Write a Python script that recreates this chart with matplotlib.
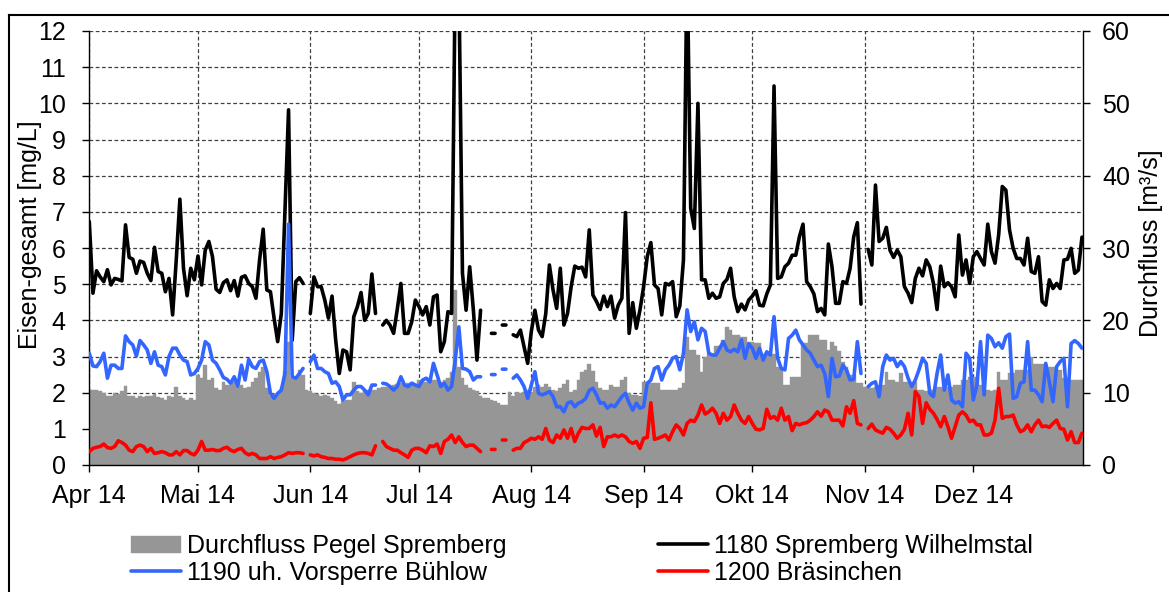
import numpy as np
import matplotlib
matplotlib.use('Agg')
import matplotlib.pyplot as plt
from matplotlib.lines import Line2D
from matplotlib.ticker import MultipleLocator

nan = np.nan

# daily values 01.04.2014 - 31.12.2014
# Eisen-gesamt [mg/L], 1180 Spremberg Wilhelmstal
fe_1180 = [
    6.73, 4.75, 5.37, 5.2, 5.07, 5.4, 4.98, 5.16, 5.13, 5.09,
    6.64, 5.74, 5.69, 5.3, 5.64, 5.6, 5.3, 5.1, 6.02, 5.35,
    5.3, 4.79, 5.16, 4.15, 5.67, 7.35, 5.44, 4.68, 5.44, 5.12,
    5.78, 4.98, 5.94, 6.18, 5.76, 4.86, 4.77, 5.04, 5.12, 4.82,
    5.1, 4.67, 5.19, 5.23, 5.02, 4.93, 4.61, 5.67, 6.52, 4.84,
    4.79, 4.06, 3.41, 4.19, 7.0, 9.82, 3.45, 5.07, 5.18, 5.02,
    nan, 4.19, 5.2, 4.93, 4.93, 4.56, 4.06, 4.67, 3.46, 2.53,
    3.18, 3.13, 2.63, 4.1, 4.38, 4.77, 4.0, 4.19, 5.28, 4.19,
    nan, 3.87, 4.0, 3.87, 3.64, 4.3, 5.02, 3.64, 3.64, 3.96,
    4.56, 4.38, 4.15, 4.38, 3.87, 4.65, 4.7, 3.13, 3.41, 4.24,
    4.19, 13.5, 13.5, 5.3, 4.28, 5.48, 4.3, 2.9, 4.28, nan,
    nan, 3.64, 3.64, nan, 3.87, 3.87, nan, 3.6, 3.55, 3.73,
    3.27, 2.81, 3.69, 4.28, 3.73, 3.55, 4.19, 5.53, 4.84, 4.33,
    5.44, 3.87, 4.19, 4.93, 5.5, 5.44, 5.47, 5.2, 6.5, 4.7,
    4.52, 4.3, 4.67, 4.38, 4.67, 4.06, 4.42, 4.61, 6.98, 3.64,
    4.49, 3.78, 4.29, 4.93, 5.76, 6.15, 4.98, 4.88, 4.15, 5.02,
    4.98, 5.07, 4.1, 4.4, 5.67, 14.0, 7.1, 6.54, 10.0, 5.12,
    5.12, 4.61, 4.75, 4.61, 4.65, 5.02, 5.13, 5.44, 4.65, 4.24,
    4.45, 4.29, 4.56, 4.67, 4.82, 4.42, 4.4, 4.73, 4.98, 10.48,
    5.16, 5.2, 5.48, 5.58, 5.8, 5.8, 6.31, 6.66, 5.07, 4.93,
    4.73, 4.24, 4.33, 4.15, 6.11, 5.48, 4.47, 4.47, 5.07, 5.02,
    5.44, 6.31, 6.7, 4.45, nan, 5.96, 5.53, 7.74, 6.18, 6.27,
    6.57, 5.94, 5.74, 5.94, 5.76, 4.93, 4.75, 4.49, 5.16, 5.44,
    5.23, 5.67, 5.48, 5.02, 4.3, 5.5, 4.93, 5.04, 4.93, 4.65,
    6.36, 5.25, 5.67, 5.02, 5.76, 5.9, 5.71, 5.53, 6.66, 5.9,
    5.58, 6.36, 7.7, 7.6, 6.5, 5.99, 5.71, 5.71, 5.53, 6.27,
    5.35, 5.3, 5.76, 4.52, 4.42, 5.12, 4.88, 5.02, 4.88, 5.67,
    5.69, 5.99, 5.3, 5.39, 6.3,
]

# 1190 uh. Vorsperre Bühlow
fe_1190 = [
    3.09, 2.74, 2.72, 2.86, 3.09, 2.4, 2.76, 2.76, 2.67, 2.67,
    3.57, 3.41, 3.32, 3.01, 3.44, 3.32, 3.18, 2.81, 3.13, 2.76,
    2.72, 2.49, 3.0, 3.23, 3.23, 3.04, 2.9, 2.86, 2.49, 2.53,
    2.67, 2.9, 3.41, 3.32, 2.9, 2.81, 2.63, 2.42, 2.37, 2.26,
    2.44, 2.18, 2.76, 2.35, 2.92, 2.72, 2.67, 2.86, 2.9, 2.58,
    1.98, 1.84, 1.98, 2.07, 2.53, 6.66, 2.44, 2.4, 2.53, 2.67,
    nan, 2.86, 3.04, 2.67, 2.67, 2.58, 2.53, 2.26, 2.3, 2.17,
    1.8, 1.94, 1.94, 2.07, 2.17, 2.17, 2.07, 1.94, 2.21, 2.21,
    nan, 2.26, 2.24, 2.17, 2.07, 2.17, 2.44, 2.21, 2.17, 2.26,
    2.21, 2.17, 2.35, 2.4, 2.3, 2.81, 2.49, 2.17, 2.26, 2.07,
    2.17, 2.9, 3.82, 2.67, 2.65, 2.58, 2.35, 2.44, 2.44, nan,
    nan, 2.5, 2.5, nan, 2.65, 2.65, nan, 2.4, 2.49, 2.35,
    2.17, 1.84, 2.21, 2.58, 1.98, 1.94, 1.98, 2.03, 1.89, 1.61,
    1.61, 1.47, 1.71, 1.75, 1.61, 1.71, 1.75, 1.84, 2.06, 2.12,
    1.94, 1.71, 1.72, 1.57, 1.66, 1.61, 1.75, 1.89, 1.98, 1.71,
    1.52, 1.71, 1.57, 1.61, 2.26, 2.35, 2.67, 2.72, 2.35, 2.63,
    2.76, 2.95, 3.0, 2.63, 3.09, 4.29, 3.69, 3.96, 3.46, 3.78,
    3.69, 3.09, 3.04, 3.04, 3.23, 3.41, 3.18, 3.13, 3.2, 3.13,
    3.46, 2.95, 3.35, 3.23, 2.95, 3.23, 2.9, 3.13, 3.04, 4.1,
    2.95, 2.67, 2.63, 3.5, 3.59, 3.73, 3.46, 3.32, 3.18, 3.09,
    2.9, 2.72, 2.76, 2.53, 1.89, 2.95, 2.44, 2.46, 2.76, 2.63,
    2.35, 2.37, 3.41, 2.53, nan, 2.17, 2.26, 2.3, 1.89, 2.72,
    3.04, 2.9, 2.95, 2.72, 2.86, 2.72, 2.4, 2.17, 2.35, 2.63,
    2.95, 2.81, 1.98, 1.89, 2.53, 3.04, 2.07, 2.49, 1.8, 1.71,
    1.75, 1.61, 3.09, 2.95, 1.8, 2.21, 3.41, 1.94, 3.59, 3.5,
    3.27, 3.38, 3.23, 3.55, 3.62, 1.84, 1.89, 2.26, 2.3, 3.41,
    2.07, 2.07, 1.94, 1.75, 2.81, 2.3, 1.75, 2.72, 2.86, 2.95,
    1.61, 3.36, 3.44, 3.36, 3.23,
]

# 1200 Bräsinchen
fe_1200 = [
    0.37, 0.46, 0.49, 0.51, 0.58, 0.48, 0.46, 0.51, 0.67, 0.62,
    0.55, 0.41, 0.37, 0.51, 0.55, 0.51, 0.37, 0.46, 0.32, 0.34,
    0.37, 0.34, 0.28, 0.28, 0.37, 0.28, 0.4, 0.4, 0.32, 0.28,
    0.41, 0.65, 0.41, 0.41, 0.43, 0.4, 0.4, 0.46, 0.49, 0.41,
    0.37, 0.43, 0.46, 0.34, 0.28, 0.32, 0.28, 0.18, 0.18, 0.18,
    0.23, 0.18, 0.21, 0.23, 0.28, 0.34, 0.32, 0.34, 0.34, 0.32,
    nan, 0.28, 0.25, 0.28, 0.23, 0.21, 0.18, 0.18, 0.16, 0.16,
    0.14, 0.18, 0.23, 0.28, 0.32, 0.34, 0.34, 0.32, 0.28, 0.53,
    nan, 0.65, 0.51, 0.46, 0.41, 0.41, 0.34, 0.28, 0.21, 0.41,
    0.46, 0.46, 0.41, 0.34, 0.53, 0.51, 0.58, 0.32, 0.65, 0.71,
    0.83, 0.62, 0.78, 0.62, 0.51, 0.55, 0.55, 0.46, 0.37, nan,
    nan, 0.43, 0.43, nan, 0.69, 0.69, nan, 0.41, 0.46, 0.46,
    0.62, 0.67, 0.74, 0.71, 0.78, 0.71, 1.01, 0.69, 0.62, 0.83,
    0.74, 0.97, 0.74, 1.01, 0.65, 0.88, 1.04, 1.01, 1.01, 1.11,
    0.8, 1.04, 0.51, 0.78, 0.78, 0.83, 0.78, 0.83, 0.78, 0.65,
    0.6, 0.65, 0.46, 0.74, 0.76, 1.72, 0.71, 0.74, 0.78, 0.83,
    0.69, 0.92, 1.11, 1.01, 0.83, 1.15, 1.24, 1.2, 1.38, 1.66,
    1.41, 1.47, 1.57, 1.43, 1.15, 1.43, 1.24, 1.34, 1.66, 1.43,
    1.24, 1.15, 1.34, 1.15, 0.99, 0.97, 1.01, 1.54, 1.29, 1.34,
    1.24, 1.57, 1.24, 1.34, 0.95, 1.15, 1.11, 1.15, 1.17, 1.24,
    1.34, 1.47, 1.35, 1.52, 1.47, 1.24, 1.24, 1.24, 1.08, 1.61,
    1.43, 1.78, 1.15, 1.11, nan, 1.01, 1.13, 0.97, 0.92, 0.88,
    1.04, 0.99, 0.88, 0.74, 0.83, 0.99, 1.43, 0.83, 2.03, 1.89,
    1.15, 1.72, 1.54, 1.43, 1.26, 1.06, 1.34, 1.06, 0.74, 1.06,
    1.38, 1.47, 1.38, 1.2, 1.24, 1.11, 1.11, 0.83, 0.83, 0.88,
    1.24, 2.12, 1.29, 1.34, 1.34, 1.38, 1.11, 0.92, 0.97, 1.11,
    0.92, 1.11, 1.24, 1.06, 1.08, 1.04, 1.15, 1.24, 1.01, 0.99,
    0.69, 0.92, 0.62, 0.62, 0.88,
]

# Durchfluss Pegel Spremberg [m³/s]
flow = [
    10.3, 10.3, 10.4, 10.2, 10.0, 9.5, 9.5, 10.0, 9.8, 10.2,
    10.9, 9.6, 9.5, 9.3, 9.6, 9.4, 9.5, 9.6, 9.8, 9.4,
    9.3, 9.0, 9.6, 9.4, 10.8, 9.6, 9.2, 9.0, 9.3, 9.0,
    12.4, 12.0, 13.8, 11.7, 12.0, 10.6, 10.3, 11.5, 11.0, 11.0,
    11.5, 10.8, 11.0, 10.6, 10.8, 11.5, 12.0, 12.9, 13.6, 10.7,
    9.6, 9.8, 10.0, 10.8, 13.0, 17.0, 12.0, 12.2, 13.2, 12.5,
    10.4, 10.2, 10.0, 9.8, 9.6, 9.7, 9.6, 9.3, 8.8, 8.5,
    8.8, 9.0, 9.0, 11.5, 10.2, 10.0, 10.2, 10.4, 10.4, 10.3,
    10.6, 10.8, 10.8, 10.6, 11.0, 11.2, 11.3, 11.0, 11.3, 11.5,
    11.2, 11.7, 11.8, 11.5, 12.0, 11.7, 11.8, 11.5, 11.7, 12.0,
    12.9, 24.2, 13.5, 12.0, 11.0, 10.6, 10.4, 10.2, 9.6, 9.2,
    9.2, 9.0, 8.8, 8.6, 8.3, 8.3, 10.1, 9.5, 10.1, 10.0,
    10.1, 10.3, 10.1, 10.8, 11.0, 10.8, 11.2, 10.8, 10.4, 10.2,
    10.6, 11.2, 11.7, 10.1, 10.3, 11.7, 12.9, 13.2, 14.0, 13.0,
    11.5, 10.6, 10.4, 10.4, 11.0, 10.8, 10.8, 11.8, 12.2, 9.9,
    9.7, 9.7, 9.6, 11.5, 11.5, 11.3, 11.3, 11.3, 10.4, 10.4,
    10.4, 10.4, 10.4, 10.6, 11.3, 17.7, 15.9, 15.9, 15.2, 12.9,
    15.0, 15.4, 15.4, 16.4, 16.4, 17.3, 19.1, 18.6, 18.0, 18.0,
    17.7, 17.7, 17.0, 17.0, 16.8, 16.8, 15.4, 15.4, 15.4, 15.4,
    13.6, 13.6, 11.1, 11.1, 12.2, 12.2, 12.2, 16.8, 16.8, 18.0,
    18.0, 18.0, 17.3, 17.3, 15.9, 17.0, 16.5, 15.7, 14.3, 13.6,
    12.4, 12.4, 11.3, 11.3, 10.8, 10.8, 10.6, 10.8, 11.0, 11.0,
    12.9, 11.7, 11.7, 11.5, 12.7, 11.5, 11.5, 11.3, 11.5, 10.4,
    10.4, 10.2, 10.4, 10.4, 10.8, 10.8, 10.6, 10.8, 10.8, 11.0,
    11.0, 11.7, 11.7, 12.2, 12.2, 12.2, 11.0, 10.4, 10.4, 10.2,
    10.4, 12.9, 11.7, 11.7, 12.7, 12.7, 13.1, 13.1, 13.1, 13.1,
    15.0, 14.0, 14.0, 14.0, 13.6, 13.6, 13.6, 13.1, 13.1, 12.0,
    12.0, 11.7, 11.7, 11.7, 11.7,
]

month_labels = ['Apr 14', 'Mai 14', 'Jun 14', 'Jul 14', 'Aug 14',
                'Sep 14', 'Okt 14', 'Nov 14', 'Dez 14']
month_days = [30, 31, 30, 31, 31, 30, 31, 30, 31]

assert len(fe_1180) == len(fe_1190) == len(fe_1200) == len(flow) == 275

plt.rcParams['font.family'] = ['Liberation Sans', 'DejaVu Sans']
plt.rcParams['font.size'] = 18

days = np.arange(len(flow))
month_start = np.concatenate([[0], np.cumsum(month_days)[:-1]])

W, H = 1169, 592
fig = plt.figure(figsize=(W / 100, H / 100), dpi=100)
x0, x1, y0, y1 = 89.3, 1082.7, 31, 465
axq = fig.add_axes([x0 / W, 1 - y1 / H, (x1 - x0) / W, (y1 - y0) / H])
axf = axq.twinx()   # iron lines, drawn above the flow columns

grid_kw = dict(color='#404040', linestyle=(0, (3, 2)), linewidth=0.9)

# flow columns (right axis)
bars = axq.bar(days, flow, width=1.0, color='#969696', edgecolor='#969696',
               linewidth=0.3, zorder=1, label='Durchfluss Pegel Spremberg')
axq.set_xlim(0, 274.2)
axq.set_ylim(0, 60)
axq.set_yticks(range(0, 61, 10))
axq.yaxis.set_minor_locator(MultipleLocator(5))
axq.yaxis.tick_right()
axq.set_xticks(month_start)
axq.set_xticklabels(month_labels)
axq.grid(True, which='both', axis='y', **grid_kw)
axq.grid(True, which='major', axis='x', **grid_kw)
axq.set_axisbelow(True)
axq.tick_params(axis='y', which='minor', length=0)
axq.tick_params(axis='both', which='major', direction='out', length=5,
                width=1, color='black')
axq.tick_params(axis='x', pad=9)
axq.tick_params(axis='y', pad=9)
axq.spines['top'].set_visible(False)
for s in ['left', 'right', 'bottom']:
    axq.spines[s].set_color('black')
    axq.spines[s].set_linewidth(1.0)

# iron lines (left axis)
axf.yaxis.tick_left()
axf.set_ylim(0, 12)
axf.set_yticks(range(0, 13))
axf.tick_params(axis='y', direction='out', length=5, width=1, pad=12)
for s in axf.spines.values():
    s.set_visible(False)

line_kw = dict(linewidth=2.6, solid_capstyle='round', solid_joinstyle='round')
l_black, = axf.plot(days, fe_1180, color='black', label='1180 Spremberg Wilhelmstal', **line_kw)
l_blue, = axf.plot(days, fe_1190, color='#3366FF', label='1190 uh. Vorsperre Bühlow', **line_kw)
l_red, = axf.plot(days, fe_1200, color='#FF0000', label='1200 Bräsinchen', **line_kw)

fig.text(30 / W, 1 - 235 / H, 'Eisen-gesamt [mg/L]', rotation=90,
         ha='center', va='center')
fig.text(1151 / W, 1 - 243 / H, 'Durchfluss [m³/s]', rotation=90,
         ha='center', va='center')

leg_kw = dict(frameon=False, borderpad=0, borderaxespad=0, handlelength=2.0,
              handletextpad=0.25, labelspacing=0.12, fontsize=18)
fig.legend([bars.patches[0], l_blue], ['Durchfluss Pegel Spremberg', '1190 uh. Vorsperre Bühlow'],
           loc='upper left', bbox_to_anchor=(131 / W, 1 - 534 / H), **leg_kw)
fig.legend([l_black, l_red], ['1180 Spremberg Wilhelmstal', '1200 Bräsinchen'],
           loc='upper left', bbox_to_anchor=(658 / W, 1 - 534 / H), **leg_kw)

# outer chart frame
fig.add_artist(Line2D([9 / W, 9 / W], [0, 1 - 15 / H], transform=fig.transFigure,
                      color='black', linewidth=1.5))
fig.add_artist(Line2D([9 / W, 1], [1 - 15 / H, 1 - 15 / H], transform=fig.transFigure,
                      color='black', linewidth=1.5))

fig.savefig('out.png', dpi=100, facecolor='white')
